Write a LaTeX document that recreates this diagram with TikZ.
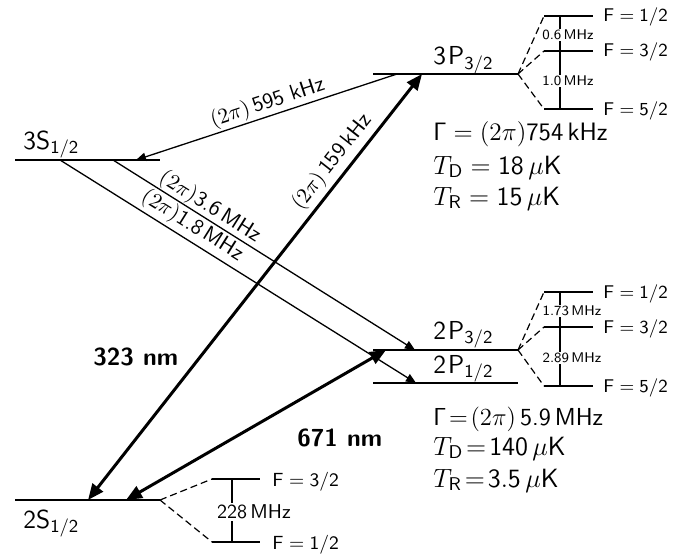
\RequirePackage{fix-cm}
\documentclass[tikz,border=0pt]{standalone}
\usetikzlibrary{arrows.meta}
\tikzset{
  lev/.style={line width=1.15pt},
  thinarr/.style={line width=0.65pt, -{Triangle[length=5pt,width=4.2pt]}},
  thinarrrev/.style={line width=0.65pt, {Triangle[length=5pt,width=4.2pt]}-},
  thickarr/.style={line width=1.5pt, {Triangle[length=8pt,width=6.5pt]}-{Triangle[length=8pt,width=6.5pt]}},
  hfs/.style={line width=0.65pt},
  hfdash/.style={line width=0.6pt, dash pattern=on 3.5pt off 2pt},
  lvl/.style={font=\fontsize{13}{15}\selectfont\sffamily, inner sep=0pt, anchor=base west},
  prop/.style={font=\fontsize{12.3}{14}\selectfont\sffamily, inner sep=0pt, anchor=base west},
  propg/.style={font=\fontsize{12.6}{14}\selectfont\sffamily, inner sep=0pt, anchor=base west},
  propt/.style={font=\fontsize{13.2}{15}\selectfont\sffamily, inner sep=0pt, anchor=base west},
  trans/.style={font=\fontsize{10.8}{12}\selectfont\sffamily, sloped},
  flab/.style={font=\fontsize{9.2}{10}\selectfont\sffamily, inner sep=0pt, anchor=base west},
  flabbig/.style={font=\fontsize{9.5}{11}\selectfont\sffamily, inner sep=0pt, anchor=base west},
  split/.style={font=\fontsize{7}{8}\selectfont\sffamily, fill=white, inner sep=0.6pt},
  splitbig/.style={font=\fontsize{10}{11}\selectfont\sffamily, fill=white, inner sep=0.8pt},
  wave/.style={font=\fontsize{12.3}{14}\selectfont\sffamily\bfseries, inner sep=0pt, anchor=base west},
}
\begin{document}
\begin{tikzpicture}[x=0.5pt, y=-0.5pt]
\useasboundingbox (0,0) rectangle (688,556);

% level end points
\coordinate (p3a) at (373,74);  \coordinate (p3b) at (518,74);
\coordinate (s3a) at (15,160);  \coordinate (s3b) at (160,160);
\coordinate (p23a) at (373,350); \coordinate (p23b) at (518,350);
\coordinate (p21a) at (373,383); \coordinate (p21b) at (518,383);
\coordinate (s2a) at (15,500);  \coordinate (s2b) at (160,500);

% levels
\draw[lev] (p3a) -- (p3b);
\draw[lev] (s3a) -- (s3b);
\draw[lev] (p23a) -- (p23b);
\draw[lev] (p21a) -- (p21b);
\draw[lev] (s2a) -- (s2b);

% level labels
\node[lvl] (l3p) at (433,65) {3\kern1pt P$_{\mathsf{3/2}}$};
\node[lvl] (l3s) at (23,149) {3S$_{\mathsf{1/2}}$};
\node[lvl] (l2p3) at (433,339) {2\kern1pt P$_{\mathsf{3/2}}$};
\node[lvl] (l2p1) at (433,373) {2\kern1pt P$_{\mathsf{1/2}}$};
\node[lvl] (l2s) at (23,528) {2S$_{\mathsf{1/2}}$};

% transition end points
\coordinate (t595a) at (136,160); \coordinate (t595b) at (397,74);
\coordinate (t159a) at (88,500);  \coordinate (t159b) at (422,74);
\coordinate (t671a) at (126,500); \coordinate (t671b) at (386,350);
\coordinate (t36a) at (113,160);  \coordinate (t36b) at (415,350);
\coordinate (t18a) at (60,160);   \coordinate (t18b) at (416,383);

% transitions
\draw[thinarrrev] (t595a) -- node[trans, above, pos=0.52, inner sep=0.8pt] {$(2\pi)$\,595 kHz} (t595b);
\draw[thinarr] (t36a) -- node[trans, above, pos=0.3, inner sep=0.2pt] {$(2\pi)$3.6\,MHz} (t36b);
\draw[thinarr] (t18a) -- node[trans, above, pos=0.35, inner sep=1.5pt] {$(2\pi)$1.8\,MHz} (t18b);
\draw[thickarr] (t159a) -- node[trans, above, pos=0.77, inner sep=2pt] {$(2\pi)$\,159\,kHz} (t159b);
\draw[thickarr] (t671a) -- (t671b);

% wavelengths
\node[wave] (w323) at (93,365) {323 nm};
\node[wave] (w671) at (297,446) {671 nm};

% properties
\node[propg] (g3) at (433,140) {$\mathsf{\Gamma} = (2\pi)$754\,kHz};
\node[propt] (d3) at (433,174) {$T_{\mathsf{D}} = \mathsf{18}\,\mu$K};
\node[propt] (r3) at (433,205) {$T_{\mathsf{R}} = \mathsf{15}\,\mu$K};
\node[prop] (g2) at (433,425) {$\mathsf{\Gamma}\mskip2mu{=}\mskip2mu(2\pi)$\,5.9\,MHz};
\node[propt] (d2) at (433,455) {$T_{\mathsf{D}}\mskip2mu{=}\mskip2mu\mathsf{140}\,\mu$K};
\node[propt] (r2) at (433,487) {$T_{\mathsf{R}}\mskip2mu{=}\mskip2mu\mathsf{3.5}\,\mu$K};

% hyperfine 3P3/2
\coordinate (h3a) at (544,16);  \coordinate (h3a2) at (593,16);
\coordinate (h3b) at (544,51);  \coordinate (h3b2) at (593,51);
\coordinate (h3c) at (544,109); \coordinate (h3c2) at (593,109);
\draw[hfdash] (p3b) -- (h3a);
\draw[hfdash] (p3b) -- (h3b);
\draw[hfdash] (p3b) -- (h3c);
\draw[hfs] (h3a) -- (h3a2);
\draw[hfs] (h3b) -- (h3b2);
\draw[hfs] (h3c) -- (h3c2);
\draw[hfs] (560,16) -- (560,109);
\node[split] (s06) at (568,35) {0.6\,MHz};
\node[split] (s10) at (568,81) {1.0\,MHz};
\node[flab] (f3a) at (603,22) {$\mathsf{F}=\mathsf{1}/\mathsf{2}$};
\node[flab] (f3b) at (603,57) {$\mathsf{F}=\mathsf{3}/\mathsf{2}$};
\node[flab] (f3c) at (603,115) {$\mathsf{F}=\mathsf{5}/\mathsf{2}$};

% hyperfine 2P3/2
\coordinate (h2a) at (544,292); \coordinate (h2a2) at (593,292);
\coordinate (h2b) at (544,327); \coordinate (h2b2) at (593,327);
\coordinate (h2c) at (544,386); \coordinate (h2c2) at (593,386);
\draw[hfdash] (p23b) -- (h2a);
\draw[hfdash] (p23b) -- (h2b);
\draw[hfdash] (p23b) -- (h2c);
\draw[hfs] (h2a) -- (h2a2);
\draw[hfs] (h2b) -- (h2b2);
\draw[hfs] (h2c) -- (h2c2);
\draw[hfs] (560,292) -- (560,386);
\node[split] (s173) at (572,311) {1.73\,MHz};
\node[split] (s289) at (572,358) {2.89\,MHz};
\node[flab] (f2a) at (603,298) {$\mathsf{F}=\mathsf{1}/\mathsf{2}$};
\node[flab] (f2b) at (603,333) {$\mathsf{F}=\mathsf{3}/\mathsf{2}$};
\node[flab] (f2c) at (603,392) {$\mathsf{F}=\mathsf{5}/\mathsf{2}$};

% hyperfine 2S1/2
\coordinate (g2a) at (212,479); \coordinate (g2a2) at (260,479);
\coordinate (g2b) at (212,542); \coordinate (g2b2) at (260,542);
\draw[hfdash] (s2b) -- (g2a);
\draw[hfdash] (s2b) -- (g2b);
\draw[hfs] (g2a) -- (g2a2);
\draw[hfs] (g2b) -- (g2b2);
\draw[hfs] (232,479) -- (232,542);
\node[splitbig] (s228) at (254,512) {228\,MHz};
\node[flabbig] (fg1) at (272,486) {$\mathsf{F}=\mathsf{3}/\mathsf{2}$};
\node[flabbig] (fg2) at (272,549) {$\mathsf{F}=\mathsf{1}/\mathsf{2}$};
\end{tikzpicture}
\end{document}
